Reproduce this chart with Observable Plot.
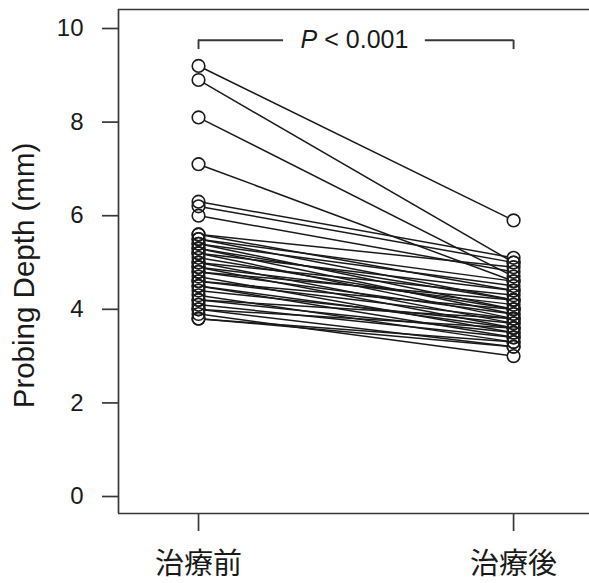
<!DOCTYPE html>
<html><head><meta charset="utf-8">
<script src="https://cdn.jsdelivr.net/npm/d3@7"></script>
<script src="https://cdn.jsdelivr.net/npm/@observablehq/plot@0.6"></script>
<style>body{margin:0;background:#fff}</style>
</head><body><div id="chart"></div>
<script>
const phases = ["治療前", "治療後"];
const before = [9.2, 8.9, 8.1, 7.1, 6.3, 6.2, 6.0, 5.6, 5.6, 5.5, 5.5, 5.4, 5.4, 5.3, 5.3, 5.2, 5.2, 5.1, 5.0, 5.0,
                4.9, 4.9, 4.8, 4.8, 4.7, 4.6, 4.6, 4.5, 4.5, 4.4, 4.3, 4.2, 4.2, 4.1, 4.0, 4.0, 3.9, 3.8, 3.8];
const after  = [5.9, 5.0, 4.7, 4.6, 5.1, 5.0, 4.8, 4.4, 4.9, 4.2, 4.6, 4.0, 4.5, 3.9, 4.2, 4.4, 3.8, 4.0, 4.3, 3.7,
                4.1, 3.6, 3.9, 4.2, 3.5, 3.8, 4.0, 3.6, 3.4, 3.7, 3.3, 3.5, 3.8, 3.4, 3.2, 3.6, 3.0, 3.3, 3.2];
const yTicks = [0, 2, 4, 6, 8, 10];
const yTitle = "Probing Depth (mm)";
const pSymbol = "P";
const pRest = " < 0.001";

const pairs = before.map((b, i) => ({id: i, before: b, after: after[i]}));
const points = pairs.flatMap(d => [{x: 0, y: d.before}, {x: 1, y: d.after}]);

const xDomain = [-0.254, 1.241];
const yDomain = [-0.363, 10.406];
const bracketY = 9.75, bracketFoot = 9.55;
const ink = "#1a1a1a";
const axisInk = "#383838";

const chart = Plot.plot({
  width: 589, height: 583,
  marginLeft: 118, marginRight: 0, marginTop: 9, marginBottom: 70,
  style: {background: "#fff", fontFamily: "'Liberation Sans', Arial, sans-serif", overflow: "visible"},
  x: {domain: xDomain, axis: null},
  y: {domain: yDomain, axis: null},
  marks: [
    Plot.ruleX([xDomain[0]], {stroke: axisInk, strokeWidth: 1.7}),
    Plot.ruleY([yDomain[0], yDomain[1]], {stroke: axisInk, strokeWidth: 1.7}),
    Plot.axisY({ticks: yTicks, tickSize: 16, tickPadding: 19, fontSize: 24, label: null,
                stroke: axisInk, fill: ink, strokeWidth: 1.7}),
    Plot.axisX({ticks: [0, 1], tickFormat: i => phases[i], tickSize: 18, tickPadding: 22, fontSize: 29,
                fontFamily: "'Noto Sans CJK JP', sans-serif", label: null,
                stroke: axisInk, fill: ink, strokeWidth: 1.7}),
    Plot.text([yTitle], {frameAnchor: "left", textAnchor: "middle", rotate: -90, dx: -94, dy: 14,
                         fontSize: 29.5, fill: ink}),
    Plot.arrow(pairs, {x1: () => 0, y1: "before", x2: () => 1, y2: "after", headLength: 0,
                       insetStart: 6.4, insetEnd: 6.4, stroke: ink, strokeWidth: 1.5, strokeLinecap: "butt"}),
    Plot.dot(points, {x: "x", y: "y", r: 6.3, stroke: ink, fill: "none", strokeWidth: 1.6}),
    Plot.ruleX([0, 1], {y1: bracketFoot, y2: bracketY, stroke: axisInk, strokeWidth: 1.9}),
    Plot.ruleY([bracketY], {x1: 0, x2: 0.27, stroke: axisInk, strokeWidth: 1.9}),
    Plot.ruleY([bracketY], {x1: 0.72, x2: 1, stroke: axisInk, strokeWidth: 1.9}),
    Plot.text([pSymbol + pRest], {x: 0.495, y: bracketY, fontSize: 25, fill: ink})
  ]
});

d3.select(chart).selectAll("text")
  .filter(function() { return this.textContent === pSymbol + pRest; })
  .each(function() {
    const t = d3.select(this);
    t.text(null);
    t.append("tspan").attr("font-style", "italic").text(pSymbol);
    t.append("tspan").text(pRest);
  });

document.getElementById("chart").appendChild(chart);
</script>
</body></html>
